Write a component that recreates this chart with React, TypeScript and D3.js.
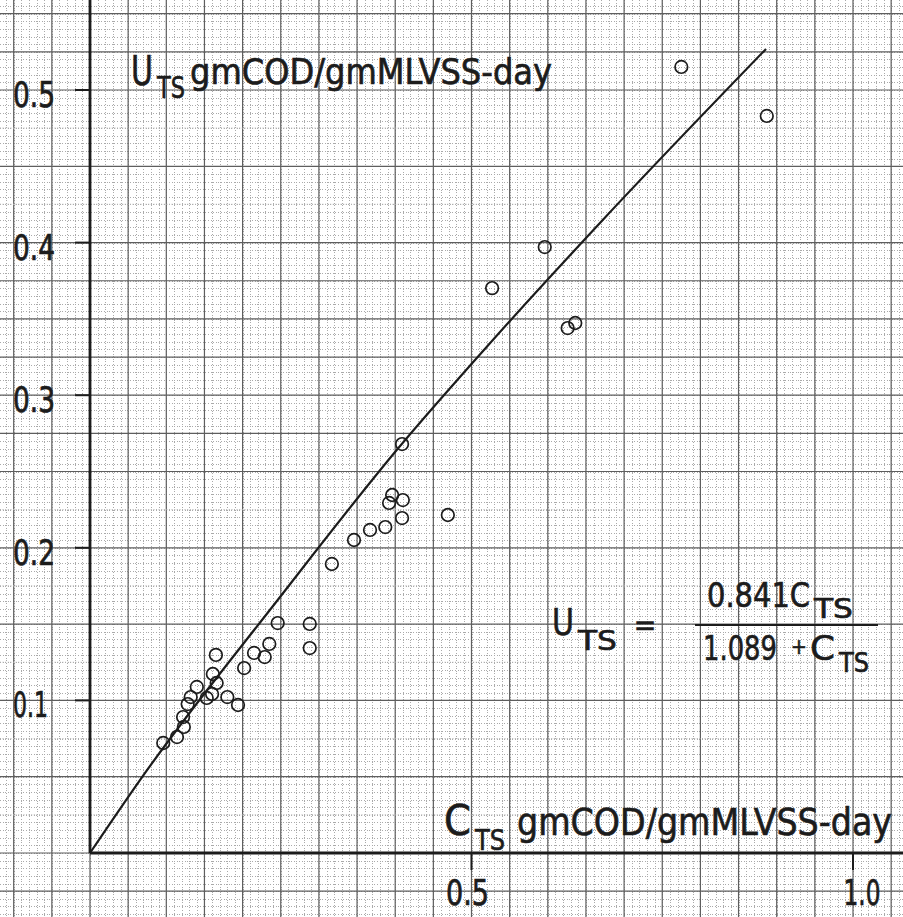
import React from "react";
import * as d3 from "d3";

const cValues = [
  0.096, 0.114, 0.123, 0.122, 0.128, 0.132, 0.14, 0.153, 0.16, 0.161, 0.166, 0.165,
  0.18, 0.194, 0.202, 0.215, 0.229, 0.235, 0.246, 0.288, 0.288, 0.317, 0.346, 0.367,
  0.387, 0.396, 0.392, 0.41, 0.409, 0.469, 0.409, 0.527, 0.596, 0.626, 0.636, 0.775, 0.887,
];
const uValues = [
  0.0721, 0.076, 0.0826, 0.0891, 0.0976, 0.1022, 0.1088, 0.1016, 0.1042, 0.1173, 0.1114, 0.1298,
  0.1022, 0.097, 0.1212, 0.1311, 0.1284, 0.137, 0.1507, 0.1501, 0.1343, 0.1894, 0.2051, 0.2117,
  0.2136, 0.2346, 0.2294, 0.2313, 0.2195, 0.2215, 0.268, 0.3702, 0.3971, 0.344, 0.3473, 0.5151, 0.483,
];

// Fitted curve as drawn on the figure
const curveC = [0, 0.0655, 0.246, 0.402, 0.528, 0.672, 0.886];
const curveU = [0, 0.0478, 0.1658, 0.2641, 0.3362, 0.4148, 0.5269];

const yTickValues = [0.1, 0.2, 0.3, 0.4, 0.5];
const yTickLabels = ["0.1", "0.2", "0.3", "0.4", "0.5"];
const xTickValues = [0.5, 1.0];
const xTickLabels = ["0.5", "1.0"];

// horizontal rulings of the graph paper that print faintly in the scan
const faintRulesU = [0.475, 0.425, 0.225, 0.175, 0.125, 0.075, 0.025];

const W = 903;
const H = 917;
const FONT = "'DejaVu Sans Condensed', 'DejaVu Sans', sans-serif";
const INK = "#1c1c1c";

export default function App() {
  const x = d3.scaleLinear().domain([0, 1]).range([90, 853]);
  const y = d3.scaleLinear().domain([0, 0.5]).range([853, 90]);

  const minorX = d3.range(-12, 108).map((i) => i / 100);
  const minorY = d3.range(-9, 113).map((i) => i * 0.005);
  const majorX = d3.range(-2, 22).map((i) => i * 0.05);
  const majorY = d3.range(-1, 23).map((i) => i * 0.025);
  const isFaint = (v: number) => faintRulesU.some((f) => Math.abs(f - v) < 1e-6);

  const pts = cValues.map((c, i) => ({ c, u: uValues[i] }));
  const curvePts = curveC.map((c, i) => [c, curveU[i]] as [number, number]);
  const line = d3
    .line<[number, number]>()
    .x((d) => x(d[0]))
    .y((d) => y(d[1]))
    .curve(d3.curveMonotoneX);

  const snap = (v: number) => Math.round(v) + 0.5;
  const adj = { lengthAdjust: "spacingAndGlyphs" } as any;

  return (
    <svg
      width={W}
      height={H}
      viewBox={`0 0 ${W} ${H}`}
      style={{ position: "absolute", left: 0, top: 0, background: "#fff" }}
    >
      <rect x={0} y={0} width={W} height={H} fill="#fff" />
      {/* minor grid */}
      <g stroke="#aaaaaa" strokeWidth={1} strokeDasharray="1 1.6" shapeRendering="crispEdges">
        {minorX.map((v, i) => (
          <line key={"mx" + i} x1={snap(x(v))} x2={snap(x(v))} y1={0} y2={H} />
        ))}
        {minorY.map((v, i) => (
          <line key={"my" + i} x1={0} x2={W} y1={snap(y(v))} y2={snap(y(v))} />
        ))}
      </g>
      {/* major grid */}
      <g stroke="#5e5e5e" strokeWidth={1.2}>
        {majorX.map((v, i) => (
          <line key={"Mx" + i} x1={x(v)} x2={x(v)} y1={0} y2={H} />
        ))}
        {majorY.map((v, i) => (
          <line
            key={"My" + i}
            x1={0}
            x2={W}
            y1={y(v)}
            y2={y(v)}
            stroke={isFaint(v) ? "#b0b0b0" : undefined}
            strokeDasharray={isFaint(v) ? "1 1.6" : undefined}
          />
        ))}
      </g>

      {/* axes */}
      <g stroke={INK} strokeWidth={2.8}>
        <line x1={x(0)} x2={x(0)} y1={0} y2={y(0)} />
        <line x1={x(0)} x2={W} y1={y(0)} y2={y(0)} />
      </g>
      <g stroke={INK} strokeWidth={2}>
        {yTickValues.map((v) => (
          <line key={"yt" + v} x1={x(0) - 15} x2={x(0)} y1={y(v)} y2={y(v)} />
        ))}
        {xTickValues.map((v) => (
          <line key={"xt" + v} x1={x(v)} x2={x(v)} y1={y(0)} y2={y(0) + 17} />
        ))}
      </g>

      {/* tick labels */}
      <g fill={INK} stroke={INK} strokeWidth={0.7} fontFamily={FONT} fontSize={35}>
        {yTickValues.map((v, i) => (
          <text
            key={"yl" + v}
            x={13}
            y={y(v) + 17}
            textLength={yTickLabels[i].includes("1") ? 35 : 42}
            {...adj}
          >
            {yTickLabels[i]}
          </text>
        ))}
        {xTickValues.map((v, i) => (
          <text
            key={"xl" + v}
            x={x(v) + (v === 1 ? 9 : -4)}
            y={905}
            textAnchor="middle"
            textLength={v === 1 ? 37 : 43}
            {...adj}
          >
            {xTickLabels[i]}
          </text>
        ))}
      </g>

      {/* fitted curve */}
      <path d={line(curvePts) || ""} fill="none" stroke={INK} strokeWidth={2.2} />

      {/* data points */}
      <g fill="none" stroke={INK} strokeWidth={1.7}>
        {pts.map((p, i) => (
          <circle key={"p" + i} cx={x(p.c)} cy={y(p.u)} r={6.3} />
        ))}
      </g>

      {/* axis titles and formula */}
      <g fill={INK} stroke={INK} strokeWidth={0.6} fontFamily={FONT}>
        {/* y title */}
        <text x={131} y={85} fontSize={40} textLength={22} {...adj}>U</text>
        <text x={157} y={98} fontSize={30} textLength={28} {...adj}>TS</text>
        <text x={190} y={84} fontSize={35} textLength={362} {...adj}>
          gmCOD/gmMLVSS-day
        </text>
        {/* x title */}
        <text x={444} y={835} fontSize={42} textLength={27} {...adj}>C</text>
        <text x={475} y={850} fontSize={28} textLength={30} {...adj}>TS</text>
        <text x={517} y={835} fontSize={37} textLength={375} {...adj}>
          gmCOD/gmMLVSS-day
        </text>

        {/* formula */}
        <text x={552} y={635} fontSize={38} textLength={22} {...adj}>U</text>
        <text x={578} y={650} fontSize={27} textLength={39} {...adj}>TS</text>
        <text x={645} y={635} fontSize={30} textAnchor="middle">=</text>
        <text fontSize={33}>
          <tspan x={707} y={607} textLength={103} {...adj}>0.841C</tspan>
          <tspan x={814} y={618} fontSize={26} textLength={39} {...adj}>TS</tspan>
        </text>
        <line x1={695} x2={878} y1={625} y2={625} stroke={INK} strokeWidth={2} />
        <text fontSize={34}>
          <tspan x={703} y={660} textLength={74} {...adj}>1.089</tspan>
          <tspan x={791} y={654} fontSize={21}>+</tspan>
          <tspan x={810} y={660} textLength={25} {...adj}>C</tspan>
          <tspan x={839} y={672} fontSize={26} textLength={30} {...adj}>TS</tspan>
        </text>
      </g>
    </svg>
  );
}
